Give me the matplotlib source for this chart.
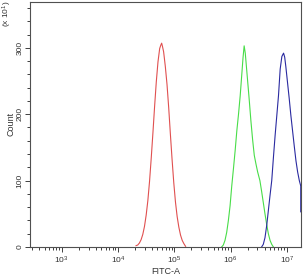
import numpy as np
import matplotlib
matplotlib.use("Agg")
import matplotlib.pyplot as plt
from matplotlib.ticker import FixedLocator, MultipleLocator, NullFormatter

plt.rcParams['font.family'] = ['Liberation Sans', 'DejaVu Sans']
plt.rcParams['mathtext.default'] = 'regular'

# histogram traces: log10(FITC-A), count (x10)
red_logx = [4.32, 4.35, 4.38, 4.41, 4.44, 4.47, 4.50, 4.53, 4.56, 4.59, 4.62, 4.65,
            4.68, 4.71, 4.74, 4.76, 4.775, 4.79, 4.81, 4.84, 4.87, 4.90, 4.93,
            4.96, 4.99, 5.02, 5.05, 5.08, 5.11, 5.14, 5.17, 5.20]
red_count = [2, 3, 6, 11, 19, 31, 48, 70, 99, 134, 172, 212,
             249, 279, 299, 304, 307, 302, 294, 272, 245, 210, 170,
             132, 97, 68, 46, 30, 18, 10, 5, 1]

green_logx = [5.84, 5.87, 5.90, 5.93, 5.96, 5.99, 6.02, 6.05, 6.08, 6.11, 6.14, 6.17,
              6.20, 6.22, 6.24, 6.26, 6.28, 6.30, 6.33, 6.36, 6.39, 6.42, 6.45,
              6.48, 6.52, 6.55, 6.58, 6.61, 6.64, 6.67, 6.70, 6.73, 6.76]
green_count = [0, 3, 10, 22, 40, 62, 92, 118, 145, 175, 200, 228,
               262, 285, 303, 292, 272, 252, 222, 190, 162, 138, 125,
               113, 100, 84, 67, 50, 34, 20, 10, 4, 0]

blue_logx = [6.55, 6.58, 6.61, 6.64, 6.67, 6.70, 6.73, 6.76, 6.79, 6.82, 6.85, 6.88,
             6.91, 6.94, 6.96, 6.98, 7.01, 7.04, 7.07, 7.10, 7.13, 7.16, 7.19,
             7.22, 7.245, 7.245]
blue_count = [0, 4, 14, 32, 55, 78, 100, 135, 168, 198, 228, 268,
              287, 292, 286, 272, 248, 224, 198, 175, 152, 130, 113,
              100, 92, 53]

x_ticks = [1e3, 1e4, 1e5, 1e6, 1e7]
x_labels = ['$10^{3}$', '$10^{4}$', '$10^{5}$', '$10^{6}$', '$10^{7}$']
y_ticks = [0, 100, 200, 300]

fig = plt.figure(figsize=(3.04, 2.75), dpi=100)
ax = fig.add_axes([0.0987, 0.1018, 0.8913, 0.8909])

ax.plot(10 ** np.array(red_logx), red_count, color='#e05050', lw=0.8)
ax.plot(10 ** np.array(green_logx), green_count, color='#48dd48', lw=0.8)
ax.plot(10 ** np.array(blue_logx), blue_count, color='#2a2aa0', lw=0.8)

ax.set_xscale('log')
ax.set_xlim(10 ** 2.437, 10 ** 7.249)
ax.set_ylim(0, 369)

ax.xaxis.set_major_locator(FixedLocator(x_ticks))
ax.set_xticklabels(x_labels)
minor = [m * 10 ** d for d in range(2, 8) for m in range(2, 10)]
ax.xaxis.set_minor_locator(FixedLocator(minor))
ax.xaxis.set_minor_formatter(NullFormatter())

ax.yaxis.set_major_locator(FixedLocator(y_ticks))
ax.yaxis.set_minor_locator(MultipleLocator(20))
for lab in ax.get_yticklabels():
    lab.set_rotation(90)
    lab.set_va('center')

ax.tick_params(which='both', direction='out', color='#404040', width=0.7,
               labelsize=6, labelcolor='#333333')
ax.tick_params(axis='y', pad=1)
ax.tick_params(axis='x', pad=2)
ax.tick_params(which='major', length=3.5)
ax.tick_params(which='minor', length=2.5)

for sp in ax.spines.values():
    sp.set_color('#505050')
    sp.set_linewidth(0.8)

ax.set_xlabel('FITC-A', fontsize=6.5, color='#333333', labelpad=1)
fig.text(0.037, 0.55, 'Count', rotation=90, fontsize=6.5, color='#333333',
         ha='center', va='center')
fig.text(0.024, 0.95, '(x 10$^{1}$)', rotation=90, fontsize=6, color='#333333',
         ha='center', va='center')

fig.savefig('out.png', dpi=100)
